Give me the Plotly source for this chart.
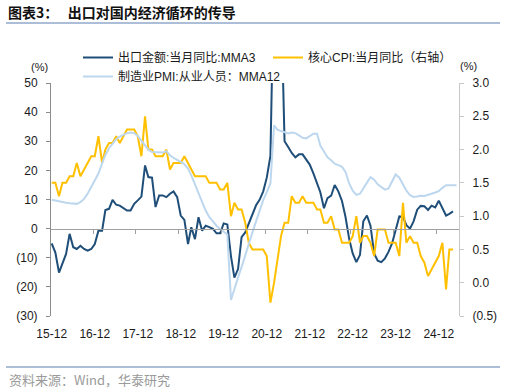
import pandas as pd
import plotly.graph_objects as go

# ---------------- data ----------------
x_tick_labels = ["15-12", "16-12", "17-12", "18-12", "19-12",
                 "20-12", "21-12", "22-12", "23-12", "24-12"]

# 出口金额:当月同比:MMA3 (left axis, %), monthly 2015-12 .. 2025-04
export_mma3 = [
    -5.1, -8.2, -15.1, -12.2, -8.7, -1.8, -6.4, -7.0, -5.9, -7.0, -7.6, -7.0,
    -5.3, -0.7, -0.7, 6.4, 6.8, 9.9, 8.2, 7.9, 7.1, 6.2, 6.2, 8.5,
    9.7, 11.0, 21.7, 17.7, 17.5, 7.4, 11.4, 11.4, 10.8, 12.0, 12.8, 10.8,
    4.5, 3.0, -5.3, 0.5, -3.6, 3.9, -0.7, 1.0, 0.5, -0.1, -1.6, -1.6,
    1.8, 1.4, -9.5, -16.8, -13.9, -2.9, -1.3, 1.7, 5.1, 8.0, 9.9, 12.8,
    17.5, 25.0, 90.0, 100.0, 80.0, 30.0, 28.0, 26.0, 24.5, 25.5, 25.5, 23.8,
    22.0, 19.0, 15.5, 12.5, 7.0, 10.5, 11.3, 15.0, 12.8, 9.5, 4.0, -3.5,
    -8.5, -11.5, -9.0, 2.5, 4.5, 1.0, -8.5, -11.0, -11.5, -10.2, -8.0, -5.0,
    -0.5, 4.2, 4.0, 1.2, 0.0, 2.5, 6.5, 7.8, 7.7, 6.4, 7.9, 7.3,
    9.6, 7.0, 4.5, 5.1, 5.9,
]

# 核心CPI:当月同比 (right axis, %), monthly 2015-12 .. 2025-04
core_cpi = [
    1.5, 1.5, 1.3, 1.5, 1.5, 1.6, 1.6, 1.8, 1.6, 1.7, 1.8, 1.9,
    1.9, 2.2, 1.8, 2.0, 2.1, 2.1, 2.2, 2.1, 2.2, 2.3, 2.3, 2.3,
    2.2, 1.9, 2.5, 2.0, 2.0, 1.9, 1.9, 1.9, 2.0, 1.7, 1.8, 1.8,
    1.8, 1.9, 1.8, 1.7, 1.6, 1.6, 1.6, 1.6, 1.5, 1.5, 1.5, 1.4,
    1.4, 1.5, 1.0, 1.2, 1.1, 1.1, 0.9, 0.6, 0.5, 0.5, 0.5, 0.5,
    0.4, -0.3, 0.0, 0.3, 0.7, 0.9, 0.9, 1.3, 1.2, 1.2, 1.3, 1.2,
    1.2, 1.2, 1.1, 1.1, 0.9, 0.9, 1.0, 0.8, 0.8, 0.6, 0.6, 0.6,
    0.7, 1.0, 0.6, 0.7, 0.7, 0.6, 0.4, 0.8, 0.8, 0.8, 0.6, 0.6,
    0.6, 0.4, 1.2, 0.6, 0.7, 0.6, 0.6, 0.4, 0.3, 0.1, 0.2, 0.3,
    0.4, 0.6, -0.1, 0.5, 0.5,
]

# 制造业PMI:从业人员：MMA12 (left axis, %), monthly 2015-12 .. 2025-05
pmi_emp_mma12 = [
    9.9, 9.6, 9.4, 9.1, 8.9, 8.7, 8.5, 8.5, 9.1, 10.2, 12.0, 14.3,
    16.6, 18.9, 22.4, 25.3, 27.6, 29.3, 30.7, 31.6, 32.2, 32.8, 33.0, 32.8,
    31.8, 30.3, 28.6, 27.1, 26.3, 26.3, 26.1, 26.1, 26.6, 25.2, 24.3, 23.7,
    22.9, 22.1, 20.6, 18.3, 15.4, 12.0, 9.1, 6.2, 3.9, 2.5, 1.0, -0.1,
    -1.0, -2.0, -24.5, -20.5, -16.8, -13.2, -9.0, -5.3, -1.3, 2.5, 6.2, 9.8,
    12.5, 15.5, 35.5, 34.0, 33.5, 33.0, 32.7, 33.0, 32.8, 32.0, 31.2, 31.0,
    31.8, 32.6, 32.6, 28.5, 26.5, 24.5, 23.5, 22.3, 21.8, 21.2, 19.5, 15.5,
    13.0, 11.6, 12.0, 14.0, 15.8, 17.7, 16.8, 15.2, 14.2, 13.4, 13.8, 16.5,
    18.6, 17.5, 15.0, 13.0, 11.5, 10.9, 11.0, 11.3, 11.2, 11.7, 12.0, 12.4,
    12.9, 14.0, 14.9, 14.9, 14.9, 14.9,
]

left_ticks = [-30, -20, -10, 0, 10, 20, 30, 40, 50]
left_tick_labels = ["(30)", "(20)", "(10)", "0", "10", "20", "30", "40", "50"]
right_ticks = [-0.5, 0.0, 0.5, 1.0, 1.5, 2.0, 2.5, 3.0]
right_tick_labels = ["(0.5)", "0.0", "0.5", "1.0", "1.5", "2.0", "2.5", "3.0"]

names = ["出口金额:当月同比:MMA3", "核心CPI:当月同比（右轴）", "制造业PMI:从业人员：MMA12"]
colors = ["#1f4e79", "#ffc000", "#bdd7ee"]

# ---------------- figure ----------------
months = pd.date_range("2015-12-01", periods=len(pmi_emp_mma12), freq="MS")
tick_dates = [pd.Timestamp("20" + t[:2] + "-12-01") for t in x_tick_labels]
boundary_ticks = [d - pd.Timedelta(days=15) for d in tick_dates]
x_range = [pd.Timestamp("2015-11-25"), pd.Timestamp("2025-05-22")]

W, H = 506, 392
ML, MR, MT, MB = 51, 47, 83, 76
PW, PH = W - ML - MR, H - MT - MB


def px(x):
    return (x - ML) / PW


def py(y):
    return (H - MB - y) / PH


FONT = "Arial, 'Liberation Sans', 'Noto Sans CJK SC', sans-serif"
CJK = "'Noto Sans CJK SC', 'Liberation Sans', sans-serif"

fig = go.Figure()
fig.add_trace(go.Scatter(x=months[:len(export_mma3)], y=export_mma3, name=names[0],
                         mode="lines", line=dict(color=colors[0], width=2),
                         xaxis="x", yaxis="y", legendrank=1))
fig.add_trace(go.Scatter(x=months, y=pmi_emp_mma12, name=names[2],
                         mode="lines", line=dict(color=colors[2], width=2),
                         xaxis="x2", yaxis="y", legendrank=3))
fig.add_trace(go.Scatter(x=months[:len(core_cpi)], y=core_cpi, name=names[1],
                         mode="lines", line=dict(color=colors[1], width=2),
                         xaxis="x", yaxis="y2", legendrank=2))

fig.update_layout(
    width=W, height=H,
    margin=dict(l=ML, r=MR, t=MT, b=MB, pad=0, autoexpand=False),
    paper_bgcolor="white", plot_bgcolor="white",
    font=dict(family=FONT, size=12, color="#1a1a1a"),
    showlegend=True,
    legend=dict(orientation="h", xref="container", x=78 / W, xanchor="left",
                yref="container", y=1 - 43 / H, yanchor="top",
                font=dict(size=12, family=FONT, color="#1a1a1a"),
                itemwidth=30, entrywidth=145, entrywidthmode="pixels",
                bgcolor="rgba(0,0,0,0)", tracegroupgap=0),
    xaxis=dict(type="date", range=x_range, tickvals=tick_dates, ticktext=x_tick_labels,
               showline=False, showgrid=False, zeroline=False, ticks="",
               ticklabelstandoff=9, tickfont=dict(size=12, color="#1a1a1a")),
    xaxis2=dict(type="date", range=x_range, overlaying="x", anchor="free",
                position=(0 - left_ticks[0]) / (left_ticks[-1] - left_ticks[0]),
                tickvals=boundary_ticks, showticklabels=False,
                showline=True, linecolor="#a0a0a0", linewidth=1,
                ticks="outside", ticklen=4, tickcolor="#a0a0a0", tickwidth=1,
                showgrid=False, zeroline=False),
    yaxis=dict(range=[left_ticks[0], left_ticks[-1]], tickvals=left_ticks,
               ticktext=left_tick_labels, showline=True, linecolor="#8c8c8c",
               linewidth=1, ticks="outside", ticklen=4, tickcolor="#8c8c8c",
               showgrid=False, zeroline=False, ticklabelstandoff=6,
               tickfont=dict(size=12, color="#1a1a1a")),
    yaxis2=dict(range=[right_ticks[0], right_ticks[-1]], tickvals=right_ticks,
                ticktext=right_tick_labels, overlaying="y", side="right",
                showline=True, linecolor="#c8c8c8", linewidth=1,
                ticks="outside", ticklen=4, tickcolor="#c8c8c8",
                showgrid=False, zeroline=False, ticklabelstandoff=6,
                tickfont=dict(size=12, color="#1a1a1a")),
)

fig.update_layout(
    title=dict(text="<b>图表3：\u00a0\u00a0\u00a0出口对国内经济循环的传导</b>",
               x=8 / W, xanchor="left", xref="container",
               y=1 - 13 / H, yanchor="middle", yref="container",
               font=dict(family=CJK, size=14, color="#111111")),
)

fig.add_shape(type="line", xref="paper", yref="paper",
              x0=px(6), x1=px(500), y0=py(23), y1=py(23),
              line=dict(color="#5b7db1", width=1))
fig.add_shape(type="line", xref="paper", yref="paper",
              x0=px(6), x1=px(500), y0=py(367), y1=py(367),
              line=dict(color="#5b7db1", width=1))

fig.add_annotation(text="资料来源：Wind，华泰研究", xref="paper", yref="paper",
                   x=px(7), y=py(379), xanchor="left", yanchor="middle",
                   showarrow=False, font=dict(family=CJK, size=13, color="#9a9a9a"))
fig.add_annotation(text="(%)", xref="paper", yref="paper",
                   x=px(39), y=py(67), xanchor="center", yanchor="middle",
                   showarrow=False, font=dict(size=11, color="#1a1a1a"))
fig.add_annotation(text="(%)", xref="paper", yref="paper",
                   x=px(469), y=py(66), xanchor="center", yanchor="middle",
                   showarrow=False, font=dict(size=11, color="#1a1a1a"))

fig.write_html("out.html", config={"displayModeBar": False},
               post_script="document.body.style.margin='0';")
